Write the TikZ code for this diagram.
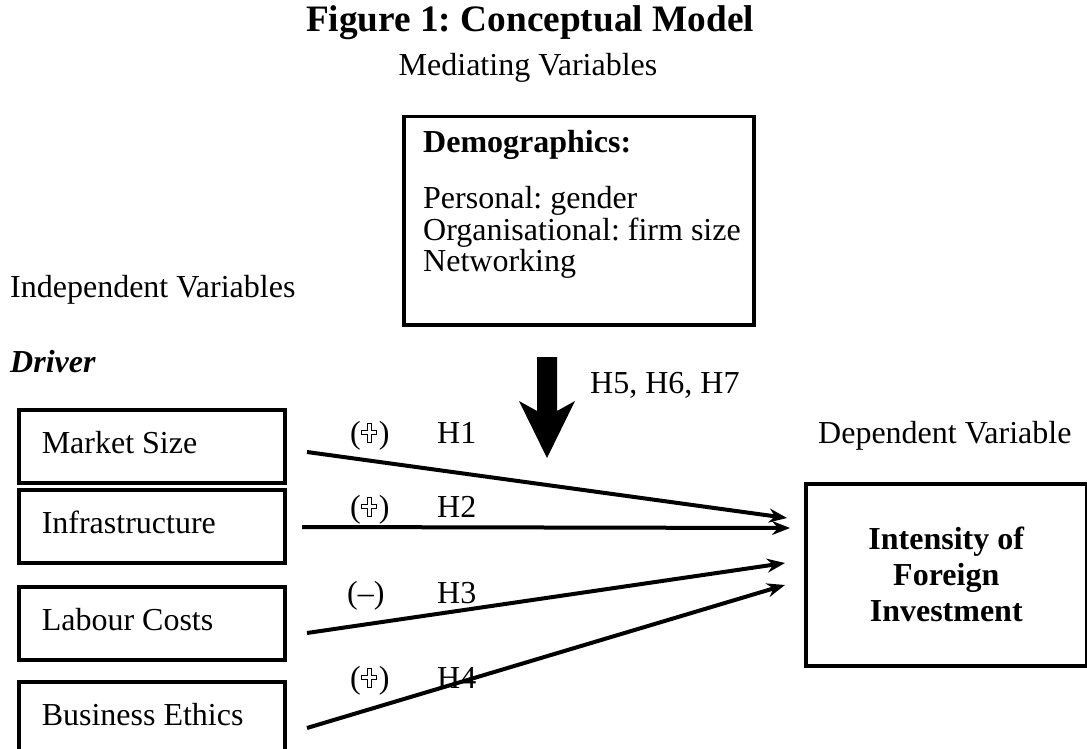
\documentclass[tikz,border=0pt]{standalone}
\usepackage{fontspec}
\setmainfont{Liberation Serif}
\usetikzlibrary{arrows.meta}
\frenchspacing
\newcommand{\opl}{\tikz[x=1pt,y=1pt,baseline=0pt]{\useasboundingbox (-1,0) rectangle (17,20);
  \draw[line width=0.9pt,fill=white] (5.6,1) -- (9.4,1) -- (9.4,8.6) -- (15,8.6) -- (15,12.4) -- (9.4,12.4) -- (9.4,19.5) -- (5.6,19.5) -- (5.6,12.4) -- (0,12.4) -- (0,8.6) -- (5.6,8.6) -- cycle;}}
\newcommand{\lbtext}[1]{\makebox[220pt][l]{#1}}
\begin{document}
\begin{tikzpicture}[x=1pt,y=-1pt,
  txt/.style={inner sep=0pt, font=\fontsize{32}{32}\selectfont},
  leftbox/.style={draw, line width=3.5pt, minimum width=266pt, minimum height=73pt,
    anchor=north west, inner xsep=23pt, inner ysep=0pt, text height=24pt, text depth=10pt,
    font=\fontsize{32}{32}\selectfont},
  bigbox/.style={draw, line width=3.5pt},
  link/.style={line width=4pt, -{Stealth[length=18pt,width=14pt,inset=6pt]}},
]
\useasboundingbox (0,0) rectangle (1087,749);

% titles
\node[inner sep=0pt, anchor=base, font=\bfseries\fontsize{37.3}{40}\selectfont] (title) at (530,32) {Figure 1: Conceptual Model};
\node[txt, anchor=base] (medvar) at (528,76) {Mediating Variables};
\node[txt, anchor=base west] (indvar) at (10,297) {Independent Variables};
\node[txt, anchor=base west, font=\bfseries\itshape\fontsize{32}{32}\selectfont] (driver) at (10,372) {Driver};
\node[txt, anchor=base west] (depvar) at (818,443) {Dependent Variable};

% demographics box
\node[bigbox, anchor=north west, minimum width=350pt, minimum height=208pt, inner sep=0pt] (demo) at (402,115) {};
\node[txt, anchor=base west, font=\bfseries\fontsize{32}{32}\selectfont] (demohead) at (423,153) {Demographics:};
\node[txt, anchor=base west] (demo1) at (423,208) {Personal: gender};
\node[txt, anchor=base west] (demo2) at (423,240) {Organisational: firm size};
\node[txt, anchor=base west] (demo3) at (423,271) {Networking};

% big arrow
\fill (537,357) -- (557,357) -- (557,411) -- (575,401) -- (547,458) -- (519,401) -- (537,411) -- cycle;
\node[txt, anchor=base west] (h567) at (590,393) {H5, H6, H7};

% left boxes
\node[leftbox] (ms) at (17,408) {\lbtext{Market Size}};
\node[leftbox] (inf) at (17,488) {\lbtext{Infrastructure}};
\node[leftbox] (lc) at (17,585) {\lbtext{Labour Costs}};
\node[leftbox] (be) at (17,680) {\lbtext{Business Ethics}};

% dependent box
\node[bigbox, anchor=north west, minimum width=281pt, minimum height=182pt, align=center,
  font=\bfseries\fontsize{32}{36}\selectfont] (ifi) at (804,482) {Intensity of\\Foreign\\Investment};

% connector endpoints
\coordinate (s1) at (307,452);
\coordinate (s2) at (302,527);
\coordinate (s3) at (307,633);
\coordinate (s4) at (307,728);
\coordinate (t1) at (787,518);
\coordinate (t2) at (790,528);
\coordinate (t3) at (785,563);
\coordinate (t4) at (785,585);

\draw[link] (s1) -- (t1);
\draw[link] (s2) -- (t2);
\draw[link] (s3) -- (t3);
\draw[link] (s4) -- (t4);

% labels
\node[txt, anchor=base west] (p1) at (350,443) {(\opl)};
\node[txt, anchor=base west] (l1) at (437,443) {H1};
\node[txt, anchor=base west] (p2) at (350,517) {(\opl)};
\node[txt, anchor=base west] (l2) at (437,517) {H2};
\node[txt, anchor=base west] (p3) at (347,603) {(–)};
\node[txt, anchor=base west] (l3) at (437,603) {H3};
\node[txt, anchor=base west] (p4) at (350,688) {(\opl)};
\node[txt, anchor=base west] (l4) at (437,688) {H4};
\end{tikzpicture}
\end{document}
